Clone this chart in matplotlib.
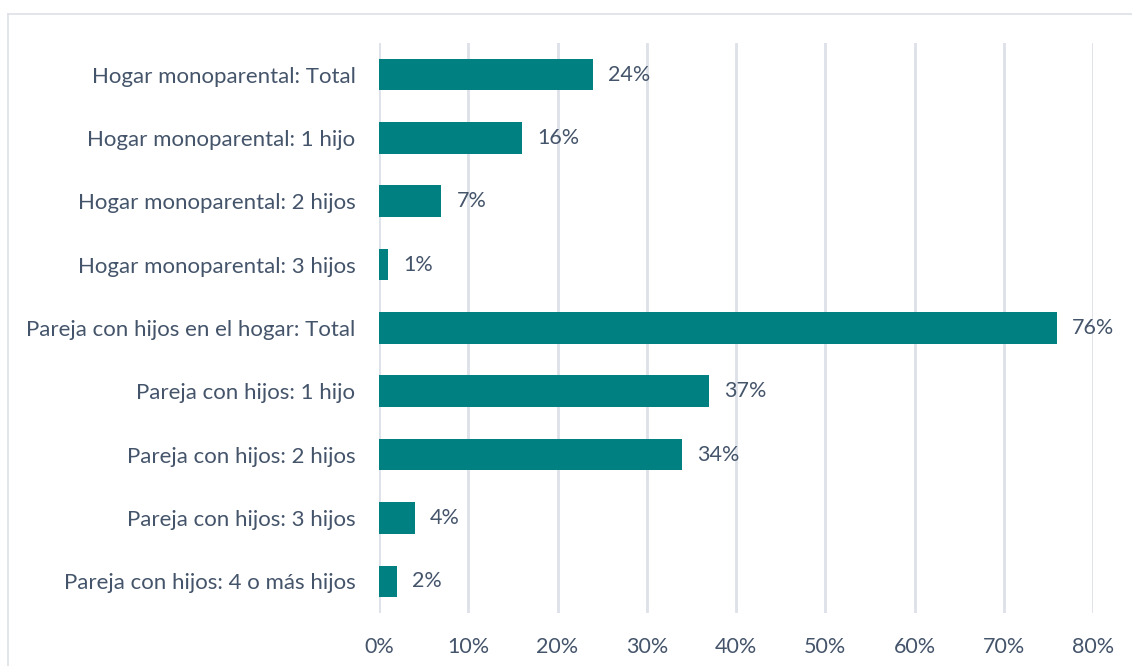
import matplotlib
matplotlib.use("Agg")
import matplotlib.pyplot as plt
from matplotlib.lines import Line2D

categories = [
    "Hogar monoparental: Total",
    "Hogar monoparental: 1 hijo",
    "Hogar monoparental: 2 hijos",
    "Hogar monoparental: 3 hijos",
    "Pareja con hijos en el hogar: Total",
    "Pareja con hijos: 1 hijo",
    "Pareja con hijos: 2 hijos",
    "Pareja con hijos: 3 hijos",
    "Pareja con hijos: 4 o más hijos",
]
values = [0.24, 0.16, 0.07, 0.01, 0.76, 0.37, 0.34, 0.04, 0.02]
value_labels = ["24%", "16%", "7%", "1%", "76%", "37%", "34%", "4%", "2%"]
xticks = [0, 0.1, 0.2, 0.3, 0.4, 0.5, 0.6, 0.7, 0.8]
xtick_labels = ["0%", "10%", "20%", "30%", "40%", "50%", "60%", "70%", "80%"]

W, H = 1132, 666
fig = plt.figure(figsize=(W / 100, H / 100), dpi=100)
plt.rcParams['font.family'] = ['Lato', 'DejaVu Sans']
text_color = "#44546A"
bar_color = "#008080"
grid_color = "#DDE1E8"

# outer chart-area border (top and left visible)
fig.add_artist(Line2D([8 / W, 1.0], [1 - 14 / H, 1 - 14 / H], color=grid_color, lw=1.2))
fig.add_artist(Line2D([8 / W, 8 / W], [0, 1 - 14 / H], color=grid_color, lw=1.2))

ax = fig.add_axes([379 / W, 1 - 613 / H, (1093 - 379) / W, (613 - 43) / H])
y = list(range(len(categories)))
ax.barh(y, values, height=0.5, color=bar_color, zorder=3)
ax.set_ylim(len(categories) - 0.5, -0.5)
ax.set_xlim(0, 0.8)
ax.set_yticks(y)
ax.set_yticklabels(categories, fontsize=16, color=text_color)
ax.set_xticks(xticks)
ax.set_xticklabels(xtick_labels, fontsize=15.5, color=text_color)
ax.tick_params(axis='both', length=0)
ax.tick_params(axis='y', pad=17)
ax.tick_params(axis='x', pad=17)
ax.grid(axis='x', color=grid_color, lw=2, zorder=0)
for s in ax.spines.values():
    s.set_visible(False)

for yi, v, lab in zip(y, values, value_labels):
    ax.annotate(lab, (v, yi), xytext=(15, 0), textcoords='offset pixels',
                va='center', ha='left', fontsize=15.5, color=text_color)

fig.savefig("out.png", dpi=100)
